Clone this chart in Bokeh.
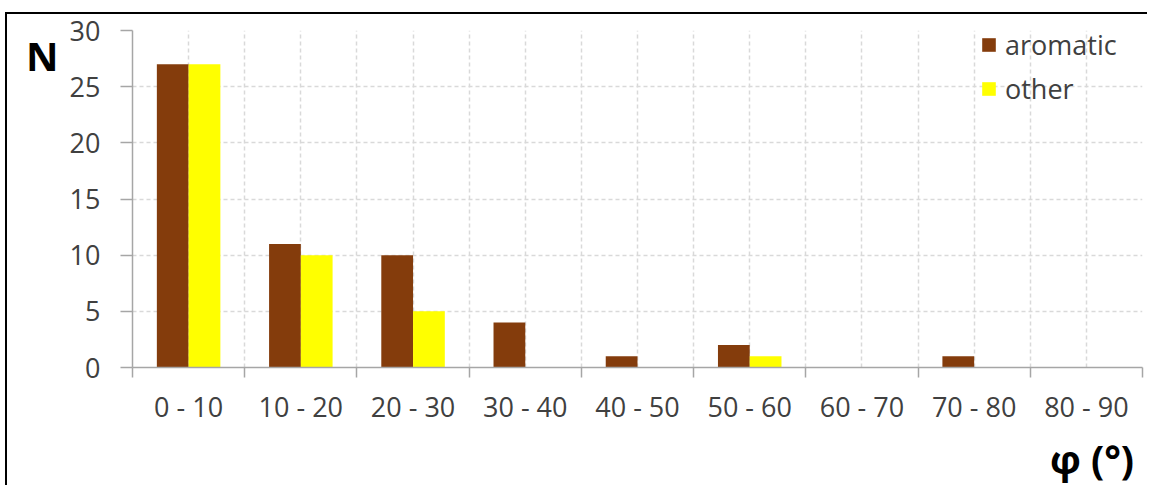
from bokeh.plotting import figure
from bokeh.models import (Range1d, FixedTicker, Legend, LegendItem,
                          ColumnDataSource, LinearAxis)
from bokeh.transform import dodge
from bokeh.embed import file_html
from bokeh.resources import INLINE

categories = ["0 - 10", "10 - 20", "20 - 30", "30 - 40", "40 - 50",
              "50 - 60", "60 - 70", "70 - 80", "80 - 90"]
aromatic = [27, 11, 10, 4, 1, 2, 0, 1, 0]
other = [27, 10, 5, 0, 0, 1, 0, 0, 0]
y_ticks = [0, 5, 10, 15, 20, 25, 30]
y_label = "N"
x_label = "φ (°)"

FONT = "Open Sans"
BROWN = "#843C0C"
YELLOW = "#FFFF00"
GRID = "#D9D9D9"
AXIS = "#A6A6A6"
TXT = "#404040"

n = len(categories)
centers = [i + 0.5 for i in range(n)]
src = ColumnDataSource(dict(center=centers, aromatic=aromatic, other=other))

p = figure(width=1142, height=473, title=None,
           x_range=Range1d(0, n), y_range=Range1d(0, 30),
           output_backend="svg", toolbar_location=None,
           min_border_left=125, min_border_right=7,
           min_border_top=16, min_border_bottom=119)
p.outline_line_color = None
p.background_fill_color = "white"
p.border_fill_color = "white"
p.styles = {"border-top": "2px solid black", "border-left": "2px solid black",
            "margin-top": "12px", "margin-left": "5px"}

r1 = p.vbar(x=dodge("center", -0.1415, range=p.x_range), top="aromatic", width=0.283,
            source=src, fill_color=BROWN, line_color=None)
r2 = p.vbar(x=dodge("center", 0.1415, range=p.x_range), top="other", width=0.283,
            source=src, fill_color=YELLOW, line_color=None)

# x axis: labels at centers, tick marks at boundaries
xt = FixedTicker(ticks=centers, minor_ticks=list(range(n + 1)))
p.xaxis.ticker = xt
p.xaxis.major_label_overrides = {c: lab for c, lab in zip(centers, categories)}
p.xaxis.major_tick_out = 0
p.xaxis.major_tick_in = 0
p.xaxis.minor_tick_out = 10
p.xaxis.minor_tick_in = 0
p.xaxis.minor_tick_line_color = AXIS
p.xaxis.minor_tick_line_width = 1.5
p.xaxis.axis_line_color = AXIS
p.xaxis.axis_line_width = 1.5
p.xaxis.major_label_standoff = 10
p.xaxis.major_label_text_font = FONT
p.xaxis.major_label_text_font_size = "27px"
p.xaxis.major_label_text_color = TXT

p.yaxis.ticker = FixedTicker(ticks=y_ticks)
p.yaxis.major_tick_out = 12
p.yaxis.major_tick_in = 0
p.yaxis.minor_tick_out = 0
p.yaxis.minor_tick_in = 0
p.yaxis.major_tick_line_color = AXIS
p.yaxis.major_tick_line_width = 1.5
p.yaxis.axis_line_color = AXIS
p.yaxis.axis_line_width = 1.5
p.yaxis.major_label_standoff = 20
p.yaxis.major_label_text_font = FONT
p.yaxis.major_label_text_font_size = "27px"
p.yaxis.major_label_text_color = TXT

# axis titles as extra, line-less axes (placed outside the frame, not clipped)
n_pos = 27.8
ax_n = LinearAxis(ticker=FixedTicker(ticks=[n_pos]),
                  major_label_overrides={n_pos: y_label},
                  axis_line_color=None, major_tick_line_color=None,
                  minor_tick_line_color=None, major_tick_out=0, major_tick_in=0,
                  major_label_standoff=8, major_label_text_font=FONT,
                  major_label_text_font_size="40px",
                  major_label_text_font_style="bold",
                  major_label_text_color="black")
p.add_layout(ax_n, "left")

phi_pos = 8.55
ax_phi = LinearAxis(ticker=FixedTicker(ticks=[phi_pos]),
                    major_label_overrides={phi_pos: x_label},
                    axis_line_color=None, major_tick_line_color=None,
                    minor_tick_line_color=None, major_tick_out=0, major_tick_in=0,
                    major_label_standoff=4, major_label_text_font=FONT,
                    major_label_text_font_size="39px",
                    major_label_text_font_style="bold",
                    major_label_text_color="black")
p.add_layout(ax_phi, "below")

# grids
p.xgrid.ticker = xt
p.xgrid.grid_line_color = GRID
p.xgrid.grid_line_dash = "4 3"
p.xgrid.grid_line_width = 1.5
p.xgrid.minor_grid_line_color = GRID
p.xgrid.minor_grid_line_dash = "4 3"
p.xgrid.minor_grid_line_width = 1.5
p.ygrid.ticker = FixedTicker(ticks=y_ticks)
p.ygrid.grid_line_color = GRID
p.ygrid.grid_line_dash = "4 3"
p.ygrid.grid_line_width = 1.5

legend = Legend(items=[LegendItem(label="aromatic", renderers=[r1]),
                       LegendItem(label="other", renderers=[r2])],
                location=(848, 260), padding=0, margin=0, spacing=7,
                border_line_color=None, background_fill_alpha=0,
                glyph_width=17, glyph_height=17, label_standoff=8,
                label_text_font=FONT, label_text_font_size="27px",
                label_text_color=TXT)
p.add_layout(legend, "center")

open("out.html", "w").write(file_html(p, INLINE))
